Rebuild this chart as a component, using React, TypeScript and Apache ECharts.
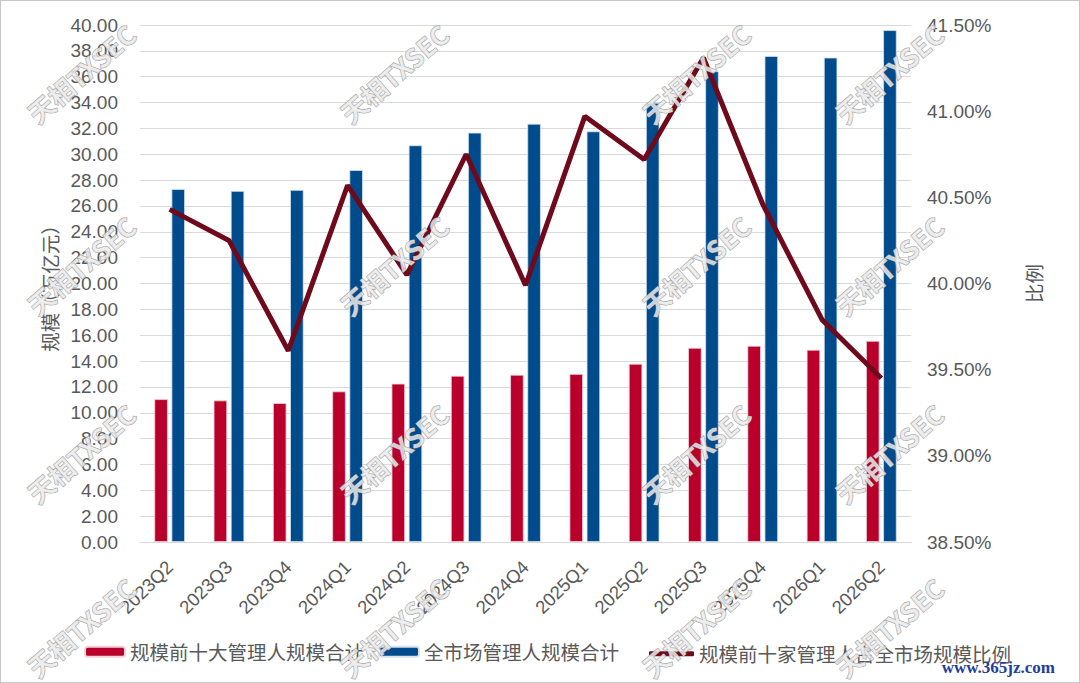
import React, { useEffect, useRef } from "react";
import * as echarts from "echarts";

const categories = [
  "2023Q2", "2023Q3", "2023Q4", "2024Q1", "2024Q2", "2024Q3", "2024Q4",
  "2025Q1", "2025Q2", "2025Q3", "2025Q4", "2026Q1", "2026Q2",
];
const top10Scale = [11.05, 10.95, 10.75, 11.65, 12.25, 12.86, 12.94, 13.0, 13.79, 15.02, 15.18, 14.87, 15.56];
const marketScale = [27.31, 27.16, 27.24, 28.78, 30.69, 31.67, 32.36, 31.77, 33.98, 36.42, 37.6, 37.48, 39.6];
const top10Ratio = [40.43, 40.25, 39.61, 40.57, 40.05, 40.75, 39.99, 40.97, 40.72, 41.31, 40.46, 39.79, 39.45];

const seriesNames = ["规模前十大管理人规模合计", "全市场管理人规模合计", "规模前十家管理人占全市场规模比例"];
const watermarkText = "天相TXSEC";
const watermarkCols = [80, 393, 695, 888];
const watermarkRows = [72, 264, 452, 626];

const FONT = '"Liberation Sans", Arial, "Noto Sans CJK SC", sans-serif';
const CJK = '"Noto Sans CJK SC", sans-serif';
const TXT = "#595959";

export default function App() {
  const ref = useRef<HTMLDivElement>(null);
  useEffect(() => {
    document.body.style.margin = "0";
    const chart = echarts.init(ref.current!, undefined, { renderer: "svg" });
    const watermarks: any[] = [];
    watermarkRows.forEach((y) =>
      watermarkCols.forEach((x) =>
        watermarks.push({
          type: "text",
          x,
          y,
          rotation: (41 * Math.PI) / 180,
          z: 100,
          silent: true,
          style: {
            text: watermarkText,
            fill: "rgba(235,235,235,0.85)",
            stroke: "#9c9c9c",
            lineWidth: 1,
            font: 'bold 26px "Noto Sans CJK SC", sans-serif',
            align: "center",
            verticalAlign: "middle",
          },
        })
      )
    );
    watermarks.push({
      type: "text",
      right: 24,
      top: 658,
      z: 100,
      style: {
        text: "www.365jz.com",
        fill: "#1f3f99",
        font: 'bold 17px "Liberation Serif", "DejaVu Serif", serif',
      },
    });
    const legendBase = {
      top: 636,
      itemWidth: 40,
      itemHeight: 10,
      itemGap: 0,
      textStyle: { fontSize: 19.5, color: TXT, fontFamily: CJK },
    };
    chart.setOption({
      animation: false,
      textStyle: { fontFamily: FONT },
      grid: { left: 139, right: 168, top: 24, bottom: 140 },
      legend: [
        { ...legendBase, left: 78, data: [seriesNames[0]] },
        { ...legendBase, left: 372, data: [seriesNames[1]] },
        {
          ...legendBase,
          top: 638,
          left: 643,
          itemWidth: 45,
          itemHeight: 5,
          data: [{ name: seriesNames[2], icon: "roundRect", itemStyle: { color: "#6F0A1C" } }],
        },
      ],
      xAxis: {
        type: "category",
        data: categories,
        axisLine: { lineStyle: { color: "#d9d9d9", width: 1 } },
        axisTick: { show: false },
        axisLabel: { rotate: 45, fontSize: 18.5, color: TXT, margin: 22, interval: 0, fontFamily: FONT },
      },
      yAxis: [
        {
          type: "value",
          min: 0,
          max: 40,
          interval: 2,
          name: "规模（万亿元）",
          nameLocation: "middle",
          nameRotate: 90,
          nameGap: 77,
          nameTextStyle: { fontSize: 19.5, color: TXT, fontFamily: CJK },
          axisLine: { show: false },
          axisTick: { show: false },
          axisLabel: { fontSize: 19, color: TXT, margin: 22, formatter: (v: number) => v.toFixed(2) },
          splitLine: { lineStyle: { color: "#d9d9d9", width: 1 } },
        },
        {
          type: "value",
          min: 38.5,
          max: 41.5,
          interval: 0.5,
          position: "right",
          name: "比例",
          nameLocation: "middle",
          nameRotate: 90,
          nameGap: 113,
          nameTextStyle: { fontSize: 19.5, color: TXT, fontFamily: CJK },
          axisLine: { show: false },
          axisTick: { show: false },
          axisLabel: { fontSize: 19, color: TXT, margin: 16, formatter: (v: number) => v.toFixed(2) + "%" },
          splitLine: { show: false },
        },
      ],
      series: [
        {
          name: seriesNames[0],
          type: "bar",
          data: top10Scale,
          barWidth: 13.5,
          barGap: "27%",
          itemStyle: { color: "#B8002A", borderColor: "#f1d3da", borderWidth: 0.8 },
        },
        {
          name: seriesNames[1],
          type: "bar",
          data: marketScale,
          barWidth: 13.5,
          barGap: "27%",
          itemStyle: { color: "#004B8C", borderColor: "#d6e2ef", borderWidth: 0.8 },
        },
        {
          name: seriesNames[2],
          type: "line",
          yAxisIndex: 1,
          data: top10Ratio,
          symbol: "none",
          lineStyle: { color: "#6F0A1C", width: 5 },
          itemStyle: { color: "#6F0A1C" },
          z: 5,
        },
      ],
      graphic: watermarks,
    });
    return () => chart.dispose();
  }, []);
  return (
    <div
      ref={ref}
      style={{ width: 1080, height: 683, boxSizing: "border-box", border: "1px solid #c8c8c8", background: "#fff" }}
    />
  );
}
